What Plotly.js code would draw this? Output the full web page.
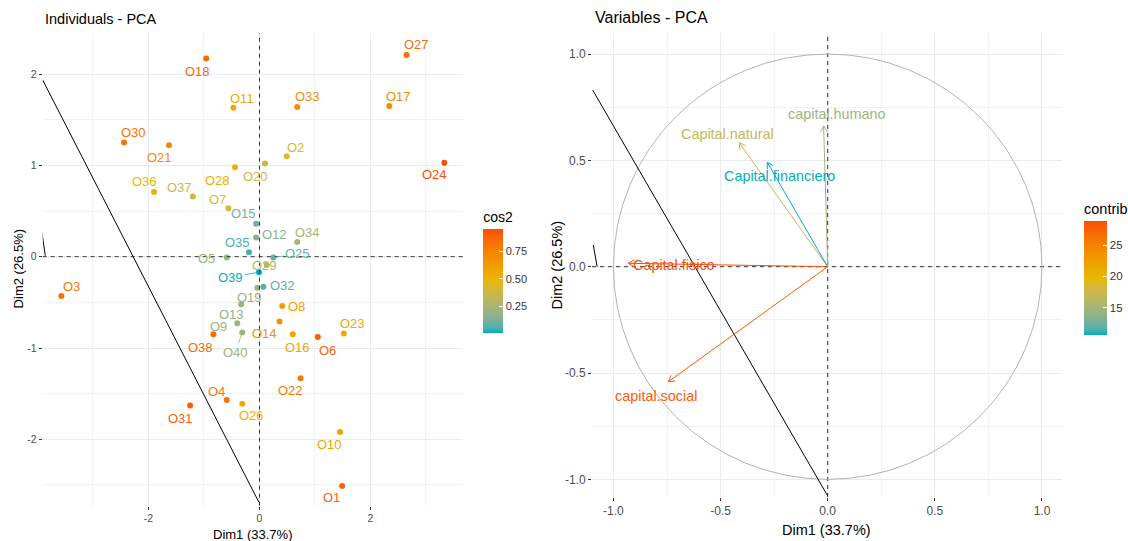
<!DOCTYPE html>
<html><head><meta charset="utf-8">
<script src="https://cdn.plot.ly/plotly-3.0.1.min.js"></script>
<style>html,body{margin:0;padding:0;background:#fff}</style>
</head><body><div id="chart" style="width:1128px;height:541px"></div>
<script>
// ---------------- DATA ----------------
const indNames = ['O1','O2','O3','O4','O5','O6','O7','O8','O9','O10','O11','O12','O13','O14','O15','O16','O17','O18','O19','O20','O21','O22','O23','O24','O25','O26','O27','O28','O29','O30','O31','O32','O33','O34','O35','O36','O37','O38','O39','O40'];
const indDim1 = [1.49,0.49,-3.57,-0.59,-0.59,1.05,-0.56,0.41,-0.40,1.45,-0.47,-0.06,-0.33,0.36,-0.06,0.60,2.34,-0.96,-0.04,0.10,-1.63,0.74,1.52,3.33,0.25,-0.31,2.65,-0.44,0.13,-2.44,-1.25,0.07,0.68,0.68,-0.19,-1.90,-1.20,-0.83,-0.01,-0.31];
const indDim2 = [-2.51,1.10,-0.43,-1.57,-0.01,-0.88,0.53,-0.54,-0.73,-1.92,1.63,0.21,-0.52,-0.71,0.36,-0.85,1.65,2.17,-0.34,1.02,1.22,-1.33,-0.84,1.03,-0.01,-1.61,2.21,0.98,-0.09,1.25,-1.63,-0.33,1.64,0.16,0.05,0.71,0.66,-0.85,-0.17,-0.83];
const indCos2 = [0.87,0.42,0.82,0.80,0.20,0.90,0.42,0.62,0.22,0.58,0.55,0.15,0.20,0.68,0.12,0.58,0.70,0.85,0.22,0.38,0.72,0.78,0.56,0.95,0.08,0.52,0.83,0.52,0.30,0.82,0.90,0.07,0.72,0.24,0.05,0.50,0.38,0.85,0.01,0.22];

const varNames = ['Capital.natural','Capital.financiero','capital.humano','Capital.fisico','capital.social'];
const varDim1 = [-0.413,-0.282,-0.019,-0.931,-0.744];
const varDim2 = [0.583,0.491,0.662,0.016,-0.541];
const varContrib = [17.0,10.6,14.6,28.9,28.1];

const xTitle = 'Dim1 (33.7%)';
const yTitle = 'Dim2 (26.5%)';
const leftXTicks = [-2,0,2], leftXTickText = ['-2','0','2'];
const leftYTicks = [-2,-1,0,1,2], leftYTickText = ['-2','-1','0','1','2'];
const rightTicks = [-1,-0.5,0,0.5,1], rightTickText = ['-1.0','-0.5','0.0','0.5','1.0'];
const cos2Ticks = [0.25,0.5,0.75], cos2TickText = ['0.25','0.50','0.75'];
const contribTicks = [15,20,25], contribTickText = ['15','20','25'];

// ---------------- STYLE / LAYOUT ----------------
const W = 1128, H = 541;
const F = 'Liberation Sans, Arial, sans-serif';
const gradCols = ['#00AFBB','#E7B800','#FC4E07'];
const leftG = {x0:42.7, x1:463, y0:33, y1:505.7, xr:[-3.906,3.667], yr:[-2.727,2.450]};
const rightG = {x0:592, x1:1061.7, y0:33, y1:497, xr:[-1.100,1.092], yr:[-1.083,1.099]};
// extra straight black lines drawn on the panels (data coords)
const leftLines = [[-3.906,1.935,-0.01,-2.69],[-3.92,0.27,-3.86,0.01]];
const rightLines = [[-1.097,0.831,0.0,-1.078],[-1.094,0.102,-1.076,0.0]];
// label offsets in px [dx, dy(down)], third item = draw leader segment
const indLabelOff = {
 O1:[-11,12],O2:[9,-9],O3:[10,-9],O4:[-10,-9],O5:[-20,1],O6:[10,13],O7:[-11,-9],O8:[14,0],O9:[-19,3],O10:[-10,12],
 O11:[9,-9],O12:[18,-3],O13:[-10,10],O14:[-15,12],O15:[-13,-10],O16:[5,13],O17:[9,-10],O18:[-9,13],O19:[-8,10],O20:[-10,13],
 O21:[-10,12],O22:[-10,12],O23:[9,-10],O24:[-10,12],O25:[24,-4,1],O26:[9,12],O27:[10,-10],O28:[-18,13],O29:[-2,1],O30:[9,-10],
 O31:[-10,13],O32:[19,-1],O33:[10,-10],O34:[10,-10],O35:[-11,-10],O36:[-10,-10],O37:[-13,-9],O38:[-13,13],O39:[-28,5,1],O40:[-7,20,1]
};
const varLabelOff = {'Capital.natural':[-12,-9],'Capital.financiero':[12,14],'capital.humano':[13,-12],'Capital.fisico':[46,2],'capital.social':[-12,14]};

// ---- Lab colour interpolation (like ggplot gradientn) ----
function hex2rgb(h){return [parseInt(h.slice(1,3),16),parseInt(h.slice(3,5),16),parseInt(h.slice(5,7),16)];}
function rgb2lab(c){
  const l=c.map(v=>{v/=255;return v<=0.04045?v/12.92:Math.pow((v+0.055)/1.055,2.4);});
  const X=(0.4124*l[0]+0.3576*l[1]+0.1805*l[2])/0.95047, Y=0.2126*l[0]+0.7152*l[1]+0.0722*l[2], Z=(0.0193*l[0]+0.1192*l[1]+0.9505*l[2])/1.08883;
  const f=t=>t>0.008856?Math.cbrt(t):7.787*t+16/116;
  const fx=f(X),fy=f(Y),fz=f(Z);
  return [116*fy-16,500*(fx-fy),200*(fy-fz)];
}
function lab2rgb(L){
  const fy=(L[0]+16)/116, fx=fy+L[1]/500, fz=fy-L[2]/200;
  const fi=t=>{const t3=t*t*t;return t3>0.008856?t3:(t-16/116)/7.787;};
  const X=0.95047*fi(fx),Y=fi(fy),Z=1.08883*fi(fz);
  let r=3.2406*X-1.5372*Y-0.4986*Z, g=-0.9689*X+1.8758*Y+0.0415*Z, b=0.0557*X-0.2040*Y+1.0570*Z;
  const gm=v=>{v=v<=0.0031308?12.92*v:1.055*Math.pow(v,1/2.4)-0.055;return Math.round(Math.max(0,Math.min(1,v))*255);};
  return 'rgb('+gm(r)+','+gm(g)+','+gm(b)+')';
}
const labs = gradCols.map(h=>rgb2lab(hex2rgb(h)));
function colAt(t){
  t=Math.max(0,Math.min(1,t));
  const s=t*(labs.length-1); const i=Math.min(labs.length-2,Math.floor(s)); const u=s-i;
  return lab2rgb([0,1,2].map(k=>labs[i][k]+(labs[i+1][k]-labs[i][k])*u));
}
const cscale=[]; for(let k=0;k<=20;k++){cscale.push([k/20,colAt(k/20)]);}
function colorOf(v,arr){const mn=Math.min(...arr),mx=Math.max(...arr);return colAt((v-mn)/(mx-mn));}

function dom(g){return {x:[g.x0/W,g.x1/W], y:[(H-g.y1)/H,(H-g.y0)/H]};}
const dL=dom(leftG), dR=dom(rightG);

function ax(extra, fs){
  return Object.assign({showgrid:true, gridcolor:'#EBEBEB', gridwidth:1, zeroline:false, showline:false,
    ticks:'outside', ticklen:3, tickwidth:1, tickcolor:'#333333', tickmode:'array',
    tickfont:{family:F,size:fs,color:'#4D4D4D'}, fixedrange:true, automargin:false}, extra);
}
function minorGrid(vals){return {tickmode:'array', tickvals:vals, showgrid:true, gridcolor:'#F2F2F2', gridwidth:1, ticks:''};}

const traces = [];
traces.push({type:'scatter', mode:'markers', x:indDim1, y:indDim2, xaxis:'x', yaxis:'y', text:indNames, hoverinfo:'text',
  marker:{size:6, color:indCos2, colorscale:cscale, showscale:true,
    colorbar:{x:483.3/W, xanchor:'left', xpad:0, y:(H-270.5)/H, yanchor:'middle', ypad:0, len:125, lenmode:'pixels',
      thickness:20, thicknessmode:'pixels', outlinewidth:0, ticks:'inside', ticklen:4, tickcolor:'#FFFFFF', tickwidth:1,
      tickmode:'array', tickvals:cos2Ticks, ticktext:cos2TickText, tickfont:{family:F,size:11,color:'#333333'},
      title:{text:'cos2', side:'top', font:{family:F,size:14,color:'#000'}}}}});
traces.push({type:'scatter', mode:'markers', x:varDim1, y:varDim2, xaxis:'x2', yaxis:'y2', hoverinfo:'skip',
  marker:{size:1, opacity:0, color:varContrib, colorscale:cscale, showscale:true,
    colorbar:{x:1084/W, xanchor:'left', xpad:0, y:(H-267.5)/H, yanchor:'middle', ypad:0, len:135, lenmode:'pixels',
      thickness:23, thicknessmode:'pixels', outlinewidth:0, ticks:'inside', ticklen:4, tickcolor:'#FFFFFF', tickwidth:1,
      tickmode:'array', tickvals:contribTicks, ticktext:contribTickText, tickfont:{family:F,size:11.5,color:'#333333'},
      title:{text:'contrib', side:'top', font:{family:F,size:14.5,color:'#000'}}}}});

const shapes = [];
const dash = {color:'#333333', width:1, dash:'4px,4px'};
shapes.push({type:'line', xref:'x domain', yref:'y', x0:0, x1:1, y0:0, y1:0, line:dash});
shapes.push({type:'line', xref:'x', yref:'y domain', x0:0, x1:0, y0:0, y1:1, line:dash});
shapes.push({type:'line', xref:'x2 domain', yref:'y2', x0:0, x1:1, y0:0, y1:0, line:dash});
shapes.push({type:'line', xref:'x2', yref:'y2 domain', x0:0, x1:0, y0:0, y1:1, line:dash});
shapes.push({type:'circle', xref:'x2', yref:'y2', x0:-1, y0:-1, x1:1, y1:1, line:{color:'#B3B3B3', width:1}});
leftLines.forEach(l=>shapes.push({type:'line', xref:'x', yref:'y', x0:l[0], y0:l[1], x1:l[2], y1:l[3], line:{color:'#000', width:1}}));
rightLines.forEach(l=>shapes.push({type:'line', xref:'x2', yref:'y2', x0:l[0], y0:l[1], x1:l[2], y1:l[3], line:{color:'#000', width:1}}));

// variable arrows
const pxX=(rightG.x1-rightG.x0)/(rightG.xr[1]-rightG.xr[0]);
const pxY=(rightG.y1-rightG.y0)/(rightG.yr[1]-rightG.yr[0]);
const annotations = [];
varNames.forEach((nm,i)=>{
  const c=colorOf(varContrib[i],varContrib);
  shapes.push({type:'line', xref:'x2', yref:'y2', x0:0, y0:0, x1:varDim1[i], y1:varDim2[i], line:{color:c, width:1}});
  let ux=varDim1[i]*pxX, uy=varDim2[i]*pxY; const n=Math.hypot(ux,uy); ux/=n; uy/=n;
  const L=7, a=Math.PI/6; const bx=-ux, by=-uy;
  const h1=[L*(bx*Math.cos(a)-by*Math.sin(a)), L*(bx*Math.sin(a)+by*Math.cos(a))];
  const h2=[L*(bx*Math.cos(-a)-by*Math.sin(-a)), L*(bx*Math.sin(-a)+by*Math.cos(-a))];
  shapes.push({type:'path', xref:'x2', yref:'y2', xsizemode:'pixel', ysizemode:'pixel', xanchor:varDim1[i], yanchor:varDim2[i],
    path:`M${h1[0].toFixed(2)},${h1[1].toFixed(2)}L0,0L${h2[0].toFixed(2)},${h2[1].toFixed(2)}`, line:{color:c, width:1}});
  const o=varLabelOff[nm];
  annotations.push({xref:'x2', yref:'y2', x:varDim1[i], y:varDim2[i], text:nm, showarrow:false, xshift:o[0], yshift:-o[1],
    font:{family:F,size:14.4,color:c}});
});

indNames.forEach((nm,i)=>{
  const c=colorOf(indCos2[i],indCos2); const o=indLabelOff[nm];
  if(o[2]){
    annotations.push({xref:'x', yref:'y', x:indDim1[i], y:indDim2[i], text:nm, showarrow:true, ax:o[0], ay:o[1], arrowhead:0,
      arrowwidth:0.8, arrowcolor:c, standoff:1, font:{family:F,size:13,color:c}});
  } else {
    annotations.push({xref:'x', yref:'y', x:indDim1[i], y:indDim2[i], text:nm, showarrow:false, xshift:o[0], yshift:-o[1],
      font:{family:F,size:13,color:c}});
  }
});

// titles
annotations.push({xref:'paper', yref:'paper', x:42.7/W, y:(H-19)/H, xanchor:'left', yanchor:'middle', showarrow:false, text:'Individuals - PCA', font:{family:F,size:14.5,color:'#000'}});
annotations.push({xref:'paper', yref:'paper', x:593/W, y:(H-18)/H, xanchor:'left', yanchor:'middle', showarrow:false, text:'Variables - PCA', font:{family:F,size:16,color:'#000'}});
annotations.push({xref:'paper', yref:'paper', x:252.9/W, y:(H-534)/H, xanchor:'center', yanchor:'middle', showarrow:false, text:xTitle, font:{family:F,size:13,color:'#000'}});
annotations.push({xref:'paper', yref:'paper', x:18/W, y:(H-269.4)/H, xanchor:'center', yanchor:'middle', showarrow:false, textangle:-90, text:yTitle, font:{family:F,size:13,color:'#000'}});
annotations.push({xref:'paper', yref:'paper', x:826.9/W, y:(H-530)/H, xanchor:'center', yanchor:'middle', showarrow:false, text:xTitle, font:{family:F,size:14.5,color:'#000'}});
annotations.push({xref:'paper', yref:'paper', x:556.5/W, y:(H-265)/H, xanchor:'center', yanchor:'middle', showarrow:false, textangle:-90, text:yTitle, font:{family:F,size:14.5,color:'#000'}});

const layout = {
  width:W, height:H, margin:{l:0,r:0,t:0,b:0}, paper_bgcolor:'#fff', plot_bgcolor:'#fff',
  showlegend:false, hovermode:'closest', font:{family:F},
  xaxis: ax({domain:dL.x, range:leftG.xr, anchor:'y', tickvals:leftXTicks, ticktext:leftXTickText, minor:minorGrid([-3,-1,1,3])}, 10.5),
  yaxis: ax({domain:dL.y, range:leftG.yr, anchor:'x', tickvals:leftYTicks, ticktext:leftYTickText, minor:minorGrid([-2.5,-1.5,-0.5,0.5,1.5])}, 10.5),
  xaxis2: ax({domain:dR.x, range:rightG.xr, anchor:'y2', tickvals:rightTicks, ticktext:rightTickText, minor:minorGrid([-0.75,-0.25,0.25,0.75])}, 12),
  yaxis2: ax({domain:dR.y, range:rightG.yr, anchor:'x2', tickvals:rightTicks, ticktext:rightTickText, minor:minorGrid([-0.75,-0.25,0.25,0.75])}, 12),
  shapes:shapes, annotations:annotations
};
Plotly.newPlot('chart', traces, layout, {displayModeBar:false, staticPlot:false});
</script></body></html>
